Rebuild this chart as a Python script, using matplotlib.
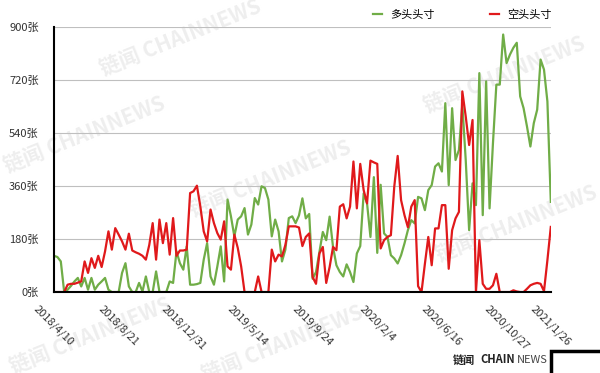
import pandas as pd
import numpy as np
import matplotlib.pyplot as plt

plt.rcParams['font.family'] = ['Noto Sans CJK SC', 'DejaVu Sans']

# 每周数据, 从 2018/4/10 到 2021/1/26
dates = pd.date_range('2018-04-10', periods=147, freq='7D')

long_pos = [123, 119, 104, 0, 8, 21, 36, 48, 19, 48, 8, 48, 8, 25, 36, 48, 8, 0, 0, 0,
            65, 98, 19, 0, 0, 31, 2, 53, 0, 0, 70, 0, 0, 0, 36, 31, 138, 98, 76, 155,
            25, 25, 27, 31, 110, 166, 53, 25, 87, 155, 36, 314, 257, 189, 246, 257, 285, 195, 229, 319,
            297, 359, 353, 314, 189, 246, 206, 104, 144, 251, 257, 234, 260, 318, 250, 265, 45, 68, 136, 204,
            176, 256, 153, 91, 68, 53, 94, 68, 34, 131, 156, 335, 301, 187, 390, 133, 364, 199, 187, 125,
            114, 97, 125, 165, 210, 244, 233, 323, 318, 278, 346, 363, 426, 437, 409, 641, 363, 624, 448, 482,
            636, 448, 210, 369, 295, 743, 261, 715, 284, 505, 704, 704, 874, 777, 806, 829, 846, 664, 624, 562,
            494, 573, 619, 789, 755, 647, 306]

short_pos = [0, 0, 0, 0, 25, 28, 28, 32, 36, 104, 65, 115, 82, 123, 85, 138, 206, 144, 217, 195,
             172, 144, 198, 141, 135, 130, 123, 110, 160, 234, 110, 246, 166, 234, 127, 251, 123, 141, 141, 144,
             336, 342, 361, 291, 206, 172, 280, 234, 200, 178, 240, 87, 76, 195, 150, 87, 0, 0, 0, 0,
             53, 0, 0, 0, 144, 104, 127, 121, 160, 223, 223, 223, 219, 156, 187, 199, 51, 28, 131, 153,
             31, 85, 153, 142, 290, 298, 250, 290, 443, 284, 435, 346, 301, 446, 440, 435, 148, 176, 187, 193,
             358, 462, 312, 261, 220, 290, 312, 20, 0, 96, 187, 91, 216, 216, 295, 295, 79, 210, 250, 272,
             681, 596, 499, 584, 0, 176, 28, 11, 11, 23, 62, 0, 0, 0, 0, 6, 2, 0, 0, 11,
             23, 28, 31, 28, 3, 108, 221]

tick_idx = [0, 19, 38, 57, 76, 95, 114, 133, 146]
tick_labels = ['2018/4/10', '2018/8/21', '2018/12/31', '2019/5/14', '2019/9/24',
               '2020/2/4', '2020/6/16', '2020/10/27', '2021/1/26']
y_ticks = [0, 180, 360, 540, 720, 900]

fig = plt.figure(figsize=(6, 3.73), dpi=100)

# 水印
for (x, y) in [(0.30, 0.90), (0.14, 0.64), (0.45, 0.52), (0.84, 0.80), (0.86, 0.40), (0.15, 0.10), (0.47, 0.08)]:
    fig.text(x, y, '链闻 CHAINNEWS', color='#eeeeee', fontsize=15, fontweight='bold',
             rotation=22, ha='center', va='center', zorder=-5)

ax = fig.add_axes([0.09, 0.217, 0.828, 0.711])
ax.patch.set_alpha(0)

ax.plot(dates, long_pos, color='#70ad47', lw=1.6, label='多头头寸')
ax.plot(dates, short_pos, color='#e0191b', lw=1.6, label='空头头寸')

ax.set_xlim(dates[0], dates[-1])
ax.set_ylim(0, 900)
ax.set_yticks(y_ticks)
ax.set_yticklabels([f'{v}张' for v in y_ticks])
ax.set_xticks(dates[tick_idx])
ax.set_xticklabels(tick_labels, rotation=-45, ha='center')
ax.tick_params(length=0, labelsize=8, labelcolor='#333333')
ax.tick_params(axis='x', pad=8)
ax.tick_params(axis='y', pad=11)
ax.grid(axis='y', color='#bfbfbf', lw=0.8)
ax.set_axisbelow(True)
for s in ['top', 'right']:
    ax.spines[s].set_visible(False)
ax.spines['left'].set_linewidth(1.5)
ax.spines['bottom'].set_linewidth(1.5)

ax.legend(loc='center right', bbox_to_anchor=(1.012, 1.0 + 0.033 / 0.711), ncol=2, frameon=False,
          fontsize=8, handlelength=0.8, handletextpad=0.7, columnspacing=5.0, borderpad=0)

# 底部标志
fig.text(0.755, 0.035, '链闻', fontsize=8, fontweight='bold', color='#222222', va='center')
fig.text(0.80, 0.035, 'CHAIN', fontsize=8, fontweight='bold', color='#222222', va='center')
fig.text(0.862, 0.035, 'NEWS', fontsize=8, color='#444444', va='center')
fig.patches.append(plt.Rectangle((0.918, -0.02), 0.1, 0.08, transform=fig.transFigure,
                                 fill=False, ec='black', lw=2.5))

plt.savefig('out.png', dpi=100)
